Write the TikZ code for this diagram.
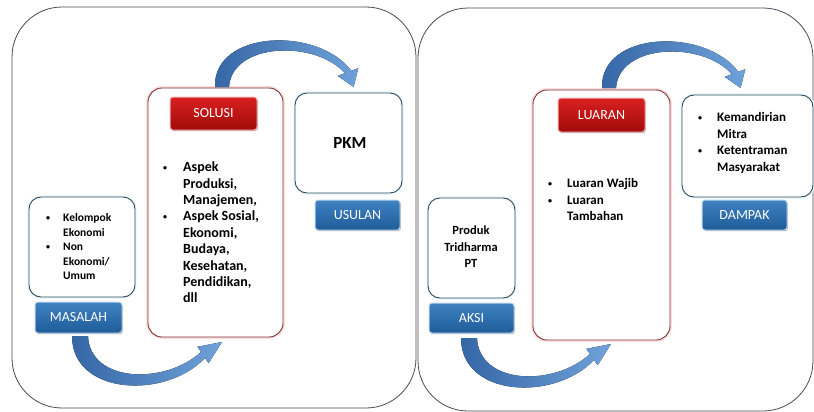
\documentclass[tikz,border=0pt]{standalone}
\usepackage{fontspec}
\setmainfont{Carlito}
\usetikzlibrary{shadows}
\definecolor{panelc}{HTML}{4D4555}
\definecolor{boxc}{HTML}{2D4A5A}
\definecolor{redboxc}{HTML}{7B3535}
\definecolor{bluetop}{HTML}{3F82C2}
\definecolor{bluebot}{HTML}{1F5C99}
\definecolor{redtop}{HTML}{D82020}
\definecolor{redbot}{HTML}{A30B0B}
\definecolor{arrowdark}{HTML}{3566A6}
\definecolor{arrowlight}{HTML}{6FA2DA}
\newcommand{\smallbul}{\raisebox{1pt}{\fontsize{8}{8}\selectfont •}}
\newcommand{\bl}[2][16pt]{\makebox[#1][l]{\smallbul}#2}
\newcommand{\cl}[2][16pt]{\hspace*{#1}#2}
\begin{document}
\begin{tikzpicture}[x=1pt,y=-1pt,
  panel/.style={draw=panelc, line width=0.8pt, rounded corners=50pt, inner sep=0pt},
  cbox/.style={draw=boxc, line width=0.9pt, rounded corners=12pt, fill=white, inner sep=0pt,
    preaction={draw=cyan!8, line width=3.5pt}},
  rbox/.style={draw=redboxc, line width=0.9pt, rounded corners=14pt, fill=white, inner sep=0pt,
    preaction={draw=red!12, line width=4pt}},
  lab/.style={rounded corners=3pt, text=white, inner sep=0pt, line width=1pt,
    font=\fontsize{14}{16}\selectfont,
    drop shadow={shadow xshift=0.8pt, shadow yshift=-1.2pt, opacity=0.3, fill=black}},
  blabel/.style={lab, draw=bluetop!35!white, top color=bluetop, bottom color=bluebot},
  rlabel/.style={lab, draw=redtop!35!white, top color=redtop, bottom color=redbot},
  txt/.style={inner sep=0pt, align=left, anchor=west, font=\bfseries\fontsize{#1}{16.4}\selectfont},
  txt/.default=13,
  barrow/.style={left color=arrowdark, right color=arrowlight, draw=none}
]
\useasboundingbox (0,0) rectangle (814,412);

% panels
\node[panel, minimum width=404pt, minimum height=401pt] (lpanel) at (214,207.5) {};
\node[panel, minimum width=395pt, minimum height=403pt] (rpanel) at (615.5,209.5) {};

% left panel boxes
\node[cbox, minimum width=106pt, minimum height=100pt] (masbox) at (82,247) {};
\node[blabel, minimum width=87pt, minimum height=31pt] (maslab) at (78.5,317.5) {MASALAH};
\node[rbox, minimum width=135pt, minimum height=249pt] (solbox) at (215.5,212.5) {};
\node[rlabel, minimum width=87pt, minimum height=33pt] (sollab) at (213.5,113.5) {SOLUSI};
\node[cbox, minimum width=107pt, minimum height=100pt] (pkmbox) at (348.5,143) {};
\node[blabel, minimum width=85pt, minimum height=30pt] (usulab) at (357.5,215) {USULAN};

% right panel boxes
\node[cbox, minimum width=87pt, minimum height=100pt] (probox) at (471.5,248) {};
\node[blabel, minimum width=85pt, minimum height=30pt] (aksilab) at (471.5,318) {AKSI};
\node[rbox, minimum width=137pt, minimum height=250pt] (luabox) at (601.5,215) {};
\node[rlabel, minimum width=87pt, minimum height=34pt] (lualab) at (601.5,115) {LUARAN};
\node[cbox, minimum width=131pt, minimum height=102pt] (dambox) at (747.5,146) {};
\node[blabel, minimum width=85pt, minimum height=30pt] (damlab) at (744.5,215) {DAMPAK};

% texts
\node[txt=11.5, font=\bfseries\fontsize{11.5}{14.5}\selectfont] (mastxt) at (46,247)
  {\bl[17pt]{Kelompok}\\\cl[17pt]{Ekonomi}\\\bl[17pt]{Non}\\\cl[17pt]{Ekonomi/}\\\cl[17pt]{Umum}};
\node[txt=14] (soltxt) at (163,232.5)
  {\bl[20pt]{Aspek}\\\cl[20pt]{Produksi,}\\\cl[20pt]{Manajemen,}\\\bl[20pt]{Aspek Sosial,}\\\cl[20pt]{Ekonomi,}\\\cl[20pt]{Budaya,}\\\cl[20pt]{Kesehatan,}\\\cl[20pt]{Pendidikan,}\\\cl[20pt]{dll}};
\node[inner sep=0pt, font=\bfseries\fontsize{17}{20}\selectfont] (pkmtxt) at (350,143) {PKM};
\node[inner sep=0pt, align=center, font=\bfseries\fontsize{12.5}{16.5}\selectfont] (protxt) at (471,247) {Produk\\Tridharma\\PT};
\node[txt=13] (luatxt) at (548,199.5)
  {\bl[19pt]{Luaran Wajib}\\\bl[19pt]{Luaran}\\\cl[19pt]{Tambahan}};
\node[txt=13] (damtxt) at (698,143)
  {\bl[19pt]{Kemandirian}\\\cl[19pt]{Mitra}\\\bl[19pt]{Ketentraman}\\\cl[19pt]{Masyarakat}};

% curved block arrows (bottom)
\foreach \sx/\sy in {0/0, 389/2}{
\begin{scope}[shift={(\sx,\sy)}]
\fill[barrow] (72,336) .. controls (72,395) and (165,400) .. (205,358)
  -- (208.6,363.2) -- (222,342) -- (197.4,346.8) -- (201,352)
  .. controls (165,385) and (90,383) .. (88,336) -- cycle;
\end{scope}}
% curved block arrows (top)
\foreach \sx/\sy in {0/0, 387/1}{
\begin{scope}[shift={(\sx,\sy)}]
\fill[barrow] (215,87) .. controls (213,30) and (318,26) .. (351.3,70.8)
  -- (358.3,68.2) -- (353.6,87) -- (337.7,75.9) -- (344.7,73.2)
  .. controls (316,40) and (232,42) .. (229,87) -- cycle;
\end{scope}}
\end{tikzpicture}
\end{document}
